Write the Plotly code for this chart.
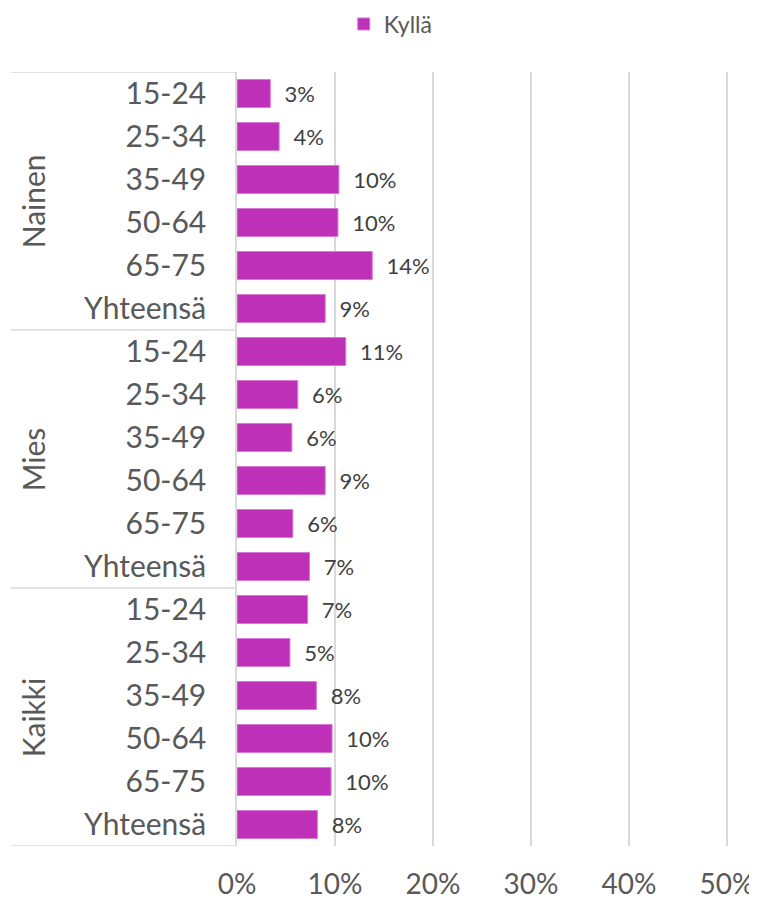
import plotly.graph_objects as go

# ---- data ----
groups = ["Nainen", "Mies", "Kaikki"]
age_labels = ["15-24", "25-34", "35-49", "50-64", "65-75", "Yhteensä"]
nainen = [3.4, 4.3, 10.4, 10.3, 13.8, 9.0]
mies = [11.1, 6.2, 5.6, 9.0, 5.7, 7.4]
kaikki = [7.2, 5.4, 8.1, 9.7, 9.6, 8.2]
series_name = "Kyllä"
x_ticks = [0, 10, 20, 30, 40, 50]
x_tick_text = ["0%", "10%", "20%", "30%", "40%", "50%"]

values = nainen + mies + kaikki
sub_labels = age_labels * len(groups)
pos = list(range(len(values)))
labels = ["\u00a0\u00a0" + f"{round(v)}%" for v in values]

FONT = "Lato"
GRID = "#D9D9D9"
TICKC = "#595959"

fig = go.Figure()
fig.add_trace(go.Bar(
    x=values, y=pos, orientation="h", name=series_name,
    marker=dict(color="#BE30B8", line=dict(color="#D77AD3", width=1)),
    text=labels, textposition="outside", constraintext="none",
    textfont=dict(family=FONT, size=22, color="#404040"),
    cliponaxis=False, width=0.65,
))

shapes = []
n = len(age_labels)
for k in range(len(groups) + 1):
    yb = k * n - 0.5
    shapes.append(dict(type="line", xref="paper", yref="y",
                       x0=-0.46, x1=0, y0=yb, y1=yb,
                       line=dict(color=GRID, width=1.5)))

annotations = []
for g_i, g in enumerate(groups):
    annotations.append(dict(
        text=g, xref="paper", yref="y", x=-0.414, y=g_i * n + (n - 1) / 2,
        textangle=-90, showarrow=False, xanchor="center", yanchor="middle",
        font=dict(family=FONT, size=30, color=TICKC)))

fig.update_layout(
    width=749, height=895,
    margin=dict(l=229, r=28, t=64, b=57, autoexpand=False),
    paper_bgcolor="white", plot_bgcolor="white",
    font=dict(family=FONT, color=TICKC),
    showlegend=True,
    legend=dict(orientation="h", x=0.511, xref="container", xanchor="center",
                y=0.9821, yref="container", yanchor="middle",
                font=dict(family=FONT, size=23, color=TICKC),
                itemwidth=30),
    shapes=shapes, annotations=annotations,
    bargap=0.35,
)
fig.update_xaxes(range=[0, 50.2], tickvals=x_ticks, ticktext=x_tick_text,
                 showgrid=True, gridcolor=GRID, gridwidth=1.5, zeroline=False,
                 showline=False, ticks="", ticklabelstandoff=19, automargin=False,
                 ticklabeloverflow="allow",
                 tickfont=dict(family=FONT, size=28, color=TICKC))
fig.update_yaxes(range=[len(values) - 0.5, -0.5], tickvals=pos, ticktext=sub_labels,
                 showgrid=False, zeroline=False, showline=True, linecolor=GRID,
                 linewidth=1.5, ticks="", ticklabelstandoff=23, automargin=False,
                 tickfont=dict(family=FONT, size=30, color=TICKC))

fig.write_html("out.html")
